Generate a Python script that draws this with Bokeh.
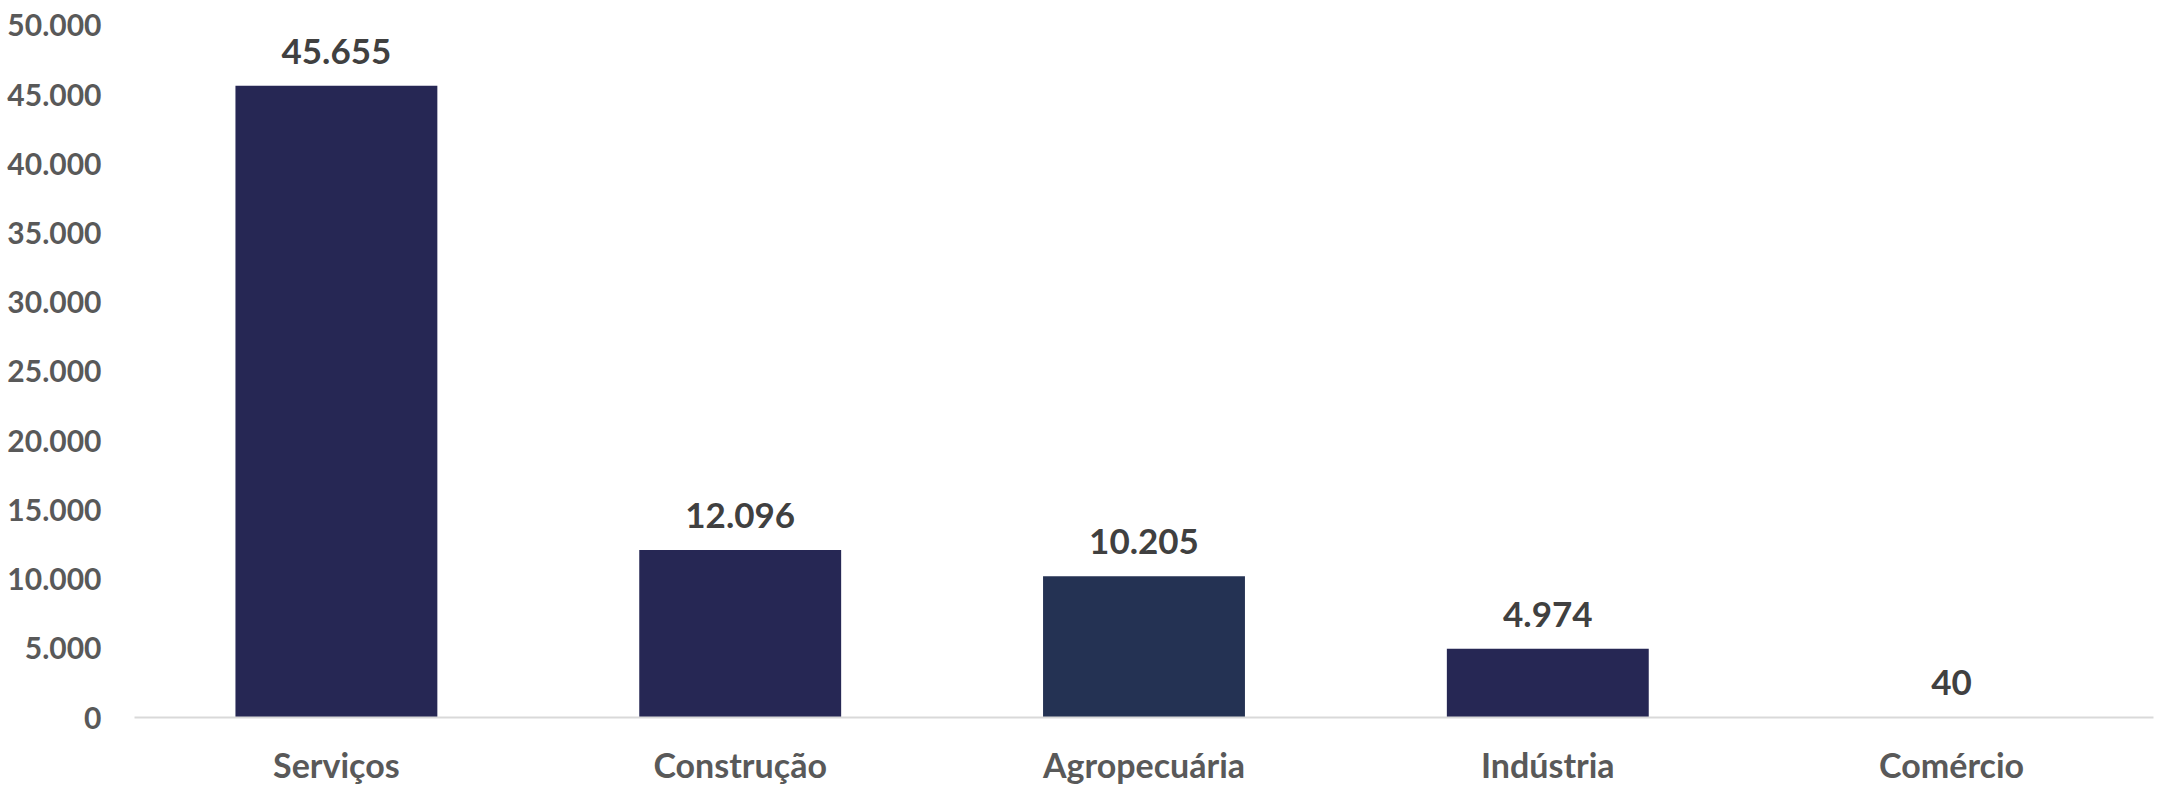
from bokeh.plotting import figure
from bokeh.models import ColumnDataSource, FactorRange, FixedTicker, LabelSet
from bokeh.core.properties import value
from bokeh.embed import file_html
from bokeh.resources import INLINE

categories = ["Serviços", "Construção", "Agropecuária", "Indústria", "Comércio"]
values = [45655, 12096, 10205, 4974, 40]
bar_colors = ["#262754", "#262754", "#243253", "#262754", "#262754"]
y_ticks = [0, 5000, 10000, 15000, 20000, 25000, 30000, 35000, 40000, 45000, 50000]


def fmt(v):
    return f"{v:,}".replace(",", ".")


src = ColumnDataSource(dict(
    cat=categories,
    val=values,
    color=bar_colors,
    label=[fmt(v) for v in values],
))

p = figure(
    x_range=FactorRange(*categories),
    y_range=(0, 50578),
    width=2164, height=787,
    output_backend="svg", toolbar_location=None,
    min_border_left=134, min_border_right=11,
    min_border_top=17, min_border_bottom=70,
)
p.outline_line_color = None
p.xgrid.grid_line_color = None
p.ygrid.grid_line_color = None

p.vbar(x="cat", top="val", width=0.5, source=src, fill_color="color", line_color=None)

labels = LabelSet(x="cat", y="val", text="label", source=src, text_align="center",
                  text_baseline="alphabetic", y_offset=22,
                  text_font=value("Lato"), text_font_style="bold", text_font_size="35px",
                  text_color="#404040")
p.add_layout(labels)

p.yaxis.ticker = FixedTicker(ticks=y_ticks)
p.yaxis.major_label_overrides = {t: fmt(t) for t in y_ticks}
p.yaxis.axis_line_color = None
p.yaxis.major_tick_line_color = None
p.yaxis.minor_tick_line_color = None
p.yaxis.major_label_standoff = 27
p.yaxis.major_label_text_font = "Lato"
p.yaxis.major_label_text_font_style = "bold"
p.yaxis.major_label_text_font_size = "30px"
p.yaxis.major_label_text_color = "#595959"

p.xaxis.axis_line_color = "#d9d9d9"
p.xaxis.axis_line_width = 2
p.xaxis.major_tick_line_color = None
p.xaxis.minor_tick_line_color = None
p.xaxis.major_label_standoff = 20
p.xaxis.major_label_text_font = "Lato"
p.xaxis.major_label_text_font_style = "bold"
p.xaxis.major_label_text_font_size = "34px"
p.xaxis.major_label_text_color = "#595959"

open("out.html", "w").write(file_html(p, INLINE))
